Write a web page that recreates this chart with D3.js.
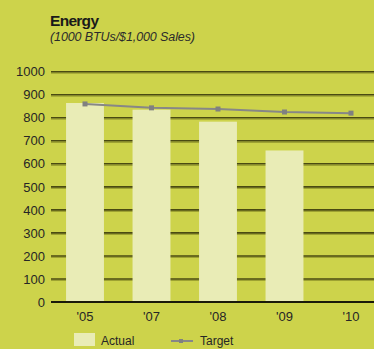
<!DOCTYPE html>
<html><head><meta charset="utf-8">
<script src="https://cdn.jsdelivr.net/npm/d3@7"></script>
<style>html,body{margin:0;padding:0;background:#cdd34b;}svg{display:block;}</style>
</head><body>
<script>
const categories = ["'05","'07","'08","'09","'10"];
const actual = [864, 835, 783, 658, null];
const target = [860, 843, 838, 825, 820];
const yTicks = [0,100,200,300,400,500,600,700,800,900,1000];

const W = 374, H = 349;
const svg = d3.select("body").append("svg").attr("width", W).attr("height", H);
svg.append("rect").attr("width", W).attr("height", H).attr("fill", "#cdd34b");

const font = "'Liberation Sans', Arial, sans-serif";
const x = d3.scaleBand().domain(categories).range([51.75, 384.25]).paddingInner(0.43).paddingOuter(0.215);
const y = d3.scaleLinear().domain([0, 1000]).range([302, 71.7]);

// title
svg.append("text").attr("x", 50).attr("y", 25.5).attr("font-family", font).attr("font-weight", "bold")
  .attr("font-size", 15.5).attr("fill", "#1a1a1a").attr("textLength", 49).text("Energy");
svg.append("text").attr("x", 50).attr("y", 41).attr("font-family", font).attr("font-style", "italic")
  .attr("font-size", 12.5).attr("fill", "#2b2b2b").attr("textLength", 145).text("(1000 BTUs/$1,000 Sales)");

// grid
const g = svg.append("g");
yTicks.filter(d => d > 0).forEach(d => {
  g.append("line").attr("x1", 51).attr("x2", 374).attr("y1", y(d) + 1.5).attr("y2", y(d) + 1.5)
    .attr("stroke", "#9ea232").attr("stroke-width", 1.2);
  g.append("line").attr("x1", 51).attr("x2", 374).attr("y1", y(d)).attr("y2", y(d))
    .attr("stroke", "#4a4a12").attr("stroke-width", 1.6);
});

// y axis labels
const yAxis = d3.axisLeft(y).tickValues(yTicks).tickFormat(d3.format("d")).tickSize(0).tickPadding(6);
const ya = svg.append("g").attr("transform", "translate(51,0)").call(yAxis);
ya.select(".domain").remove();
ya.selectAll("text").attr("font-family", font).attr("font-size", 13).attr("fill", "#262626");

// bars
svg.append("g").selectAll("rect").data(categories.map((c, i) => ({c, v: actual[i]})).filter(d => d.v != null))
  .join("rect").attr("x", d => x(d.c)).attr("width", x.bandwidth())
  .attr("y", d => y(d.v)).attr("height", d => y(0) - y(d.v)).attr("fill", "#e9ecb6");

// zero line
svg.append("line").attr("x1", 51).attr("x2", 374).attr("y1", y(0)).attr("y2", y(0))
  .attr("stroke", "#1a1a0a").attr("stroke-width", 1.8);

// x labels
const xAxis = d3.axisBottom(x).tickSize(0).tickPadding(10);
const xa = svg.append("g").attr("transform", `translate(0,${y(0)})`).call(xAxis);
xa.select(".domain").remove();
xa.selectAll("text").attr("font-family", font).attr("font-size", 13).attr("fill", "#262626");

// target line
const pts = categories.map((c, i) => [x(c) + x.bandwidth() / 2, y(target[i])]);
svg.append("path").attr("d", d3.line()(pts)).attr("fill", "none").attr("stroke", "#878787").attr("stroke-width", 2);
svg.append("g").selectAll("rect").data(pts).join("rect")
  .attr("x", d => d[0] - 2.5).attr("y", d => d[1] - 2.5).attr("width", 5).attr("height", 5).attr("fill", "#808080");

// legend
svg.append("rect").attr("x", 74).attr("y", 333).attr("width", 21).attr("height", 13).attr("fill", "#e9ecb6");
svg.append("text").attr("x", 101).attr("y", 345).attr("font-family", font).attr("font-size", 12).attr("fill", "#262626").text("Actual");
svg.append("line").attr("x1", 171).attr("x2", 193).attr("y1", 341).attr("y2", 341).attr("stroke", "#878787").attr("stroke-width", 2);
svg.append("rect").attr("x", 179).attr("y", 339).attr("width", 4).attr("height", 4).attr("fill", "#808080");
svg.append("text").attr("x", 200).attr("y", 345).attr("font-family", font).attr("font-size", 12).attr("fill", "#262626").text("Target");
</script>
</body></html>
